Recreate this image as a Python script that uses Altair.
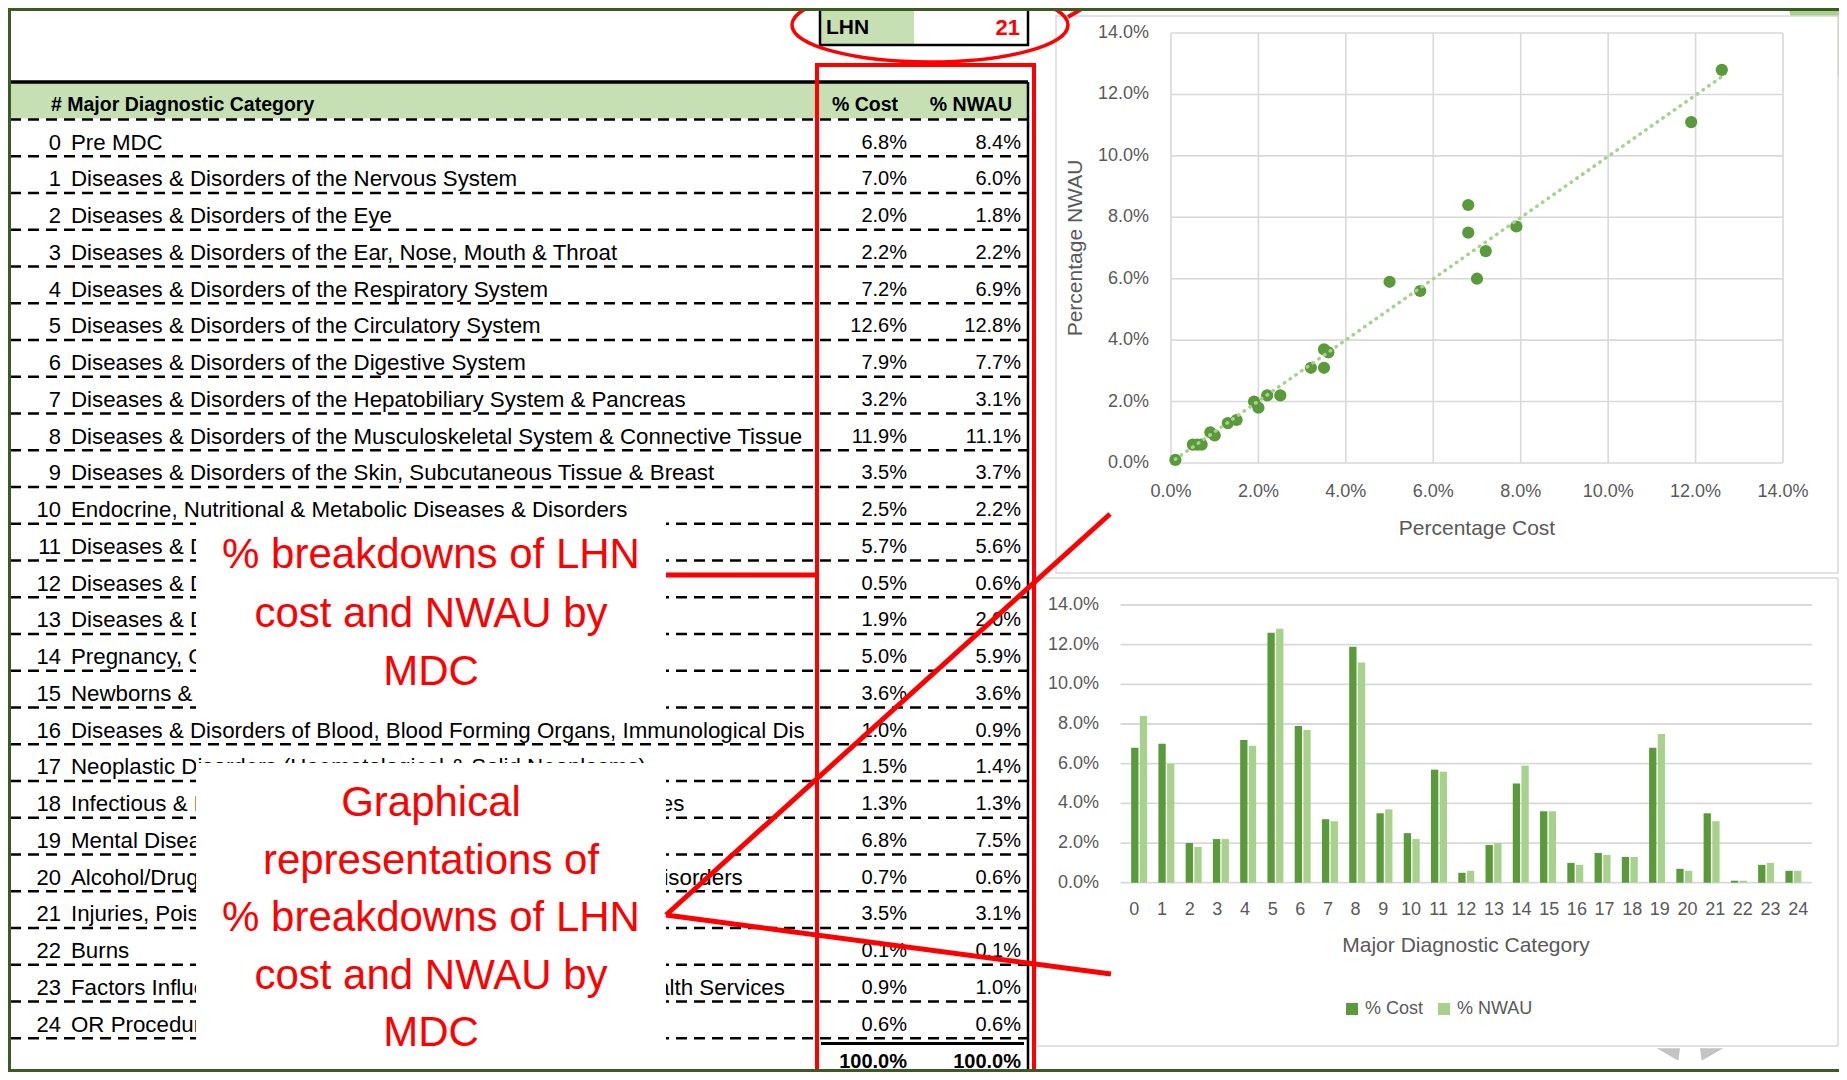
import altair as alt
import pandas as pd

# ---------------- data ----------------
mdc = list(range(25))
mdc_names = [
    "Pre MDC",
    "Diseases & Disorders of the Nervous System",
    "Diseases & Disorders of the Eye",
    "Diseases & Disorders of the Ear, Nose, Mouth & Throat",
    "Diseases & Disorders of the Respiratory System",
    "Diseases & Disorders of the Circulatory System",
    "Diseases & Disorders of the Digestive System",
    "Diseases & Disorders of the Hepatobiliary System & Pancreas",
    "Diseases & Disorders of the Musculoskeletal System & Connective Tissue",
    "Diseases & Disorders of the Skin, Subcutaneous Tissue & Breast",
    "Endocrine, Nutritional & Metabolic Diseases & Disorders",
    "Diseases & Disorders of the Kidney & Urinary Tract",
    "Diseases & Disorders of the Male Reproductive System",
    "Diseases & Disorders of the Female Reproductive System",
    "Pregnancy, Childbirth & the Puerperium",
    "Newborns & Other Neonates",
    "Diseases & Disorders of Blood, Blood Forming Organs, Immunological Disorders",
    "Neoplastic Disorders (Haematological & Solid Neoplasms)",
    "Infectious & Parasitic Diseases, Systemic or Unspecified Sites",
    "Mental Diseases & Disorders",
    "Alcohol/Drug Use & Alcohol/Drug Induced Organic Mental Disorders",
    "Injuries, Poisonings & Toxic Effects of Drugs",
    "Burns",
    "Factors Influencing Health Status & Other Contacts with Health Services",
    "OR Procedures Unrelated to Principal Diagnosis",
]
pct_cost = [6.8, 7.0, 2.0, 2.2, 7.2, 12.6, 7.9, 3.2, 11.9, 3.5, 2.5, 5.7, 0.5,
            1.9, 5.0, 3.6, 1.0, 1.5, 1.3, 6.8, 0.7, 3.5, 0.1, 0.9, 0.6]
pct_nwau = [8.4, 6.0, 1.8, 2.2, 6.9, 12.8, 7.7, 3.1, 11.1, 3.7, 2.2, 5.6, 0.6,
            2.0, 5.9, 3.6, 0.9, 1.4, 1.3, 7.5, 0.6, 3.1, 0.1, 1.0, 0.6]
pct_ticks = [0, 2, 4, 6, 8, 10, 12, 14]
total_labels = ["100.0%", "100.0%"]
header_labels = ["# Major Diagnostic Category", "% Cost", "% NWAU"]
lhn_label = "LHN"
lhn_value = "21"
series_names = ["% Cost", "% NWAU"]
scatter_titles = ["Percentage Cost", "Percentage NWAU"]
bar_title = "Major Diagnostic Category"
note_1 = ["% breakdowns of LHN", "cost and NWAU by", "MDC"]
note_2 = ["Graphical", "representations of", "% breakdowns of LHN", "cost and NWAU by", "MDC"]

rows_df = pd.DataFrame({"mdc": mdc, "name": mdc_names, "cost": pct_cost, "nwau": pct_nwau})
ticks_df = pd.DataFrame({"t": pct_ticks})
one = pd.DataFrame({"_": [0]})

# ---------------- styles ----------------
F = "Liberation Sans, Arial, sans-serif"
AX = "#595959"
GRID = "#d9d9d9"
DARK = "#5b9a3b"
LIGHT = "#a9d18e"
RED = "#ff0000"
HDR = "#c6e0b4"
FRAME = "#3b5a24"
W, H = 1831, 1064

row_scale = alt.Scale(domain=[-1, 25], range=[97.75, 1053.25], nice=False, zero=False)
sx = alt.Scale(domain=[0, 14], range=[1163, 1775], nice=False, zero=False)
sy = alt.Scale(domain=[0, 14], range=[455, 25], nice=False, zero=False)
bx = alt.Scale(domain=[-0.5, 24.5], range=[1112.5, 1804], nice=False, zero=False)
by = alt.Scale(domain=[0, 14], range=[874.7, 597], nice=False, zero=False)


def box(x, x2, y, y2, **kw):
    return alt.Chart(one).mark_rect(**kw).encode(
        x=alt.value(x), x2=alt.value(x2), y=alt.value(y), y2=alt.value(y2))


def seg(x, y, x2, y2, **kw):
    return alt.Chart(one).mark_rule(**kw).encode(
        x=alt.value(x), y=alt.value(y), x2=alt.value(x2), y2=alt.value(y2))


def txt(s, x, y, **kw):
    kw.setdefault("font", F)
    kw.setdefault("baseline", "middle")
    return alt.Chart(one).mark_text(text=s, **kw).encode(x=alt.value(x), y=alt.value(y))


layers = []

# ---- background decorations (behind chart boxes) ----
chevron = "M -1 -0.17 L -0.3 -0.17 L -0.35 0.2 Z M 0.3 -0.17 L 1 -0.17 L 0.35 0.2 Z"
layers.append(alt.Chart(one).mark_point(shape=chevron, size=4436, filled=True, color="#c4c4c4",
                                        opacity=1, strokeWidth=0).encode(
    x=alt.value(1682), y=alt.value(1046)))
layers.append(alt.Chart(one).mark_circle(size=53000, color=LIGHT, opacity=1).encode(
    x=alt.value(1892), y=alt.value(-28)))
layers.append(box(1048, 1830, 8, 565, color="white", stroke=GRID, strokeWidth=1.5))
layers.append(box(1028, 1830, 570, 1038, color="white", stroke=GRID, strokeWidth=1.5))

# ---- table ----
layers.append(box(2, 1020, 75, 110.5, color=HDR))
layers.append(box(812, 906, 1, 37, color=HDR))
layers.append(box(812, 1020, 1, 37, fillOpacity=0, stroke="black", strokeWidth=2.5))
layers.append(txt(lhn_label, 818, 20, align="left", fontWeight="bold", fontSize=21, color="black"))
layers.append(txt(lhn_value, 1012, 20, align="right", fontWeight="bold", fontSize=22, color=RED))

layers.append(alt.Chart(alt.sequence(0, 26, as_="k")).transform_calculate(
    pos="datum.k - 0.626").mark_rule(color="black", strokeWidth=2.5, strokeDash=[11, 7]).encode(
    x=alt.value(2), x2=alt.value(1020), y=alt.Y("pos:Q", scale=row_scale, axis=None)))
layers.append(seg(2, 74, 1020, 74, color="black", strokeWidth=3.5))
layers.append(seg(1020, 74, 1020, 1064, color="black", strokeWidth=2.5))

layers.append(txt(header_labels[0], 43, 97, align="left", fontWeight="bold", fontSize=19.5, color="black"))
layers.append(txt(header_labels[1], 890, 97, align="right", fontWeight="bold", fontSize=19.5, color="black"))
layers.append(txt(header_labels[2], 1004, 97, align="right", fontWeight="bold", fontSize=19.5, color="black"))

row_y = alt.Y("mdc:Q", scale=row_scale, axis=None)
rows = alt.Chart(rows_df)
layers.append(rows.mark_text(align="right", baseline="middle", font=F, fontSize=22, color="black").encode(
    x=alt.value(53), y=row_y, text="mdc:N"))
layers.append(rows.mark_text(align="left", baseline="middle", font=F, fontSize=22.3, color="black",
                             limit=746, ellipsis=" ").encode(
    x=alt.value(63), y=row_y, text="name:N"))
layers.append(rows.transform_calculate(lbl="format(datum.cost, '.1f') + '%'").mark_text(
    align="right", baseline="middle", font=F, fontSize=20, color="black").encode(
    x=alt.value(899), y=row_y, text="lbl:N"))
layers.append(rows.transform_calculate(lbl="format(datum.nwau, '.1f') + '%'").mark_text(
    align="right", baseline="middle", font=F, fontSize=20, color="black").encode(
    x=alt.value(1013), y=row_y, text="lbl:N"))

layers.append(seg(813, 1035.5, 1016, 1035.5, color="black", strokeWidth=3))
layers.append(txt(total_labels[0], 899, 1053.5, align="right", fontWeight="bold", fontSize=20, color="black"))
layers.append(txt(total_labels[1], 1013, 1053.5, align="right", fontWeight="bold", fontSize=20, color="black"))

# ---- scatter chart ----
tick_base = alt.Chart(ticks_df).transform_calculate(
    lo="0", hi="14", blo="-0.5", bhi="24.5", lbl="format(datum.t, '.1f') + '%'")
layers.append(tick_base.mark_rule(color=GRID, strokeWidth=1.6).encode(
    x=alt.X("t:Q", scale=sx, axis=None), y=alt.Y("lo:Q", scale=sy, axis=None), y2="hi:Q"))
layers.append(tick_base.mark_rule(color=GRID, strokeWidth=1.6).encode(
    y=alt.Y("t:Q", scale=sy, axis=None), x=alt.X("lo:Q", scale=sx, axis=None), x2="hi:Q"))
layers.append(tick_base.mark_text(align="right", baseline="middle", font=F, fontSize=18, color=AX).encode(
    x=alt.value(1141), y=alt.Y("t:Q", scale=sy, axis=None), text="lbl:N"))
layers.append(tick_base.mark_text(align="center", baseline="middle", font=F, fontSize=18, color=AX).encode(
    x=alt.X("t:Q", scale=sx, axis=None), y=alt.value(484), text="lbl:N"))
layers.append(txt(scatter_titles[0], 1469, 521, align="center", fontSize=21, color=AX))
layers.append(txt(scatter_titles[1], 1068, 240, align="center", fontSize=21, color=AX, angle=270))
layers.append(rows.mark_circle(size=150, color=DARK, opacity=1).encode(
    x=alt.X("cost:Q", scale=sx, axis=None), y=alt.Y("nwau:Q", scale=sy, axis=None)))
layers.append(rows.transform_regression("cost", "nwau").mark_line(
    color=LIGHT, strokeWidth=3.5, strokeDash=[0.5, 6.5], strokeCap="round").encode(
    x=alt.X("cost:Q", scale=sx, axis=None), y=alt.Y("nwau:Q", scale=sy, axis=None)))

# ---- bar chart ----
layers.append(tick_base.mark_rule(color=GRID, strokeWidth=1.8).encode(
    y=alt.Y("t:Q", scale=by, axis=None), x=alt.X("blo:Q", scale=bx, axis=None), x2="bhi:Q"))
layers.append(tick_base.mark_text(align="right", baseline="middle", font=F, fontSize=18, color=AX).encode(
    x=alt.value(1091), y=alt.Y("t:Q", scale=by, axis=None), text="lbl:N"))
layers.append(rows.transform_fold(["cost", "nwau"], as_=["series", "value"]).transform_calculate(
    xpos="datum.mdc + (datum.series == 'cost' ? -0.159 : 0.159)",
    seriesLabel="datum.series == 'cost' ? '% Cost' : '% NWAU'").mark_bar(width=7.3).encode(
    x=alt.X("xpos:Q", scale=bx, axis=None),
    y=alt.Y("value:Q", scale=by, axis=None, stack=None),
    color=alt.Color("seriesLabel:N", scale=alt.Scale(domain=series_names, range=[DARK, LIGHT]),
                    legend=alt.Legend(orient="none", legendX=1335, legendY=992, direction="horizontal",
                                      title=None, symbolType="square", symbolSize=144,
                                      symbolStrokeWidth=0, labelFont=F, labelFontSize=18,
                                      labelColor=AX, labelOffset=4, columnPadding=11, padding=0))))
layers.append(rows.mark_text(align="center", baseline="middle", font=F, fontSize=18, color=AX).encode(
    x=alt.X("mdc:Q", scale=bx, axis=None), y=alt.value(902), text="mdc:N"))
layers.append(txt(bar_title, 1458, 938, align="center", fontSize=21, color=AX))

# ---- annotation overlays ----
layers.append(box(188, 658, 512, 704, color="white"))
layers.append(box(188, 658, 755, 1056, color="white"))
for i, line in enumerate(note_1):
    layers.append(txt(line, 423, 547 + 58.5 * i, align="center", fontSize=42, color=RED))
for i, line in enumerate(note_2):
    layers.append(txt(line, 423, 795 + 57.5 * i, align="center", fontSize=42, color=RED))

layers.append(box(809, 1026, 57, 1075, fillOpacity=0, stroke=RED, strokeWidth=4))
layers.append(seg(658, 567, 810, 567, color=RED, strokeWidth=5))
layers.append(seg(658, 907, 1102, 506, color=RED, strokeWidth=5))
layers.append(seg(658, 907, 1103, 966, color=RED, strokeWidth=5))
ellipse = "M -1 0 A 1 0.268 0 1 1 1 0 A 1 0.268 0 1 1 -1 0 Z"
layers.append(alt.Chart(one).mark_point(shape=ellipse, size=76176, filled=False, color=RED,
                                        strokeWidth=3.5, opacity=1).encode(
    x=alt.value(922), y=alt.value(17)))
layers.append(seg(1060, 9, 1092, -10, color=RED, strokeWidth=4))

# ---- outer frame ----
layers.append(box(0, 3, 0, H, color=FRAME))
layers.append(box(0, W, 0, 3, color=FRAME))
layers.append(box(0, W, H - 3, H, color=FRAME))

chart = alt.layer(*layers).resolve_scale(
    x="independent", y="independent", color="independent"
).properties(
    width=W, height=H, autosize=alt.AutoSizeParams(type="none"), padding=0
).configure_view(stroke=None).configure(background="white")

chart.save("out.html", embed_options={"renderer": "svg", "actions": False})
